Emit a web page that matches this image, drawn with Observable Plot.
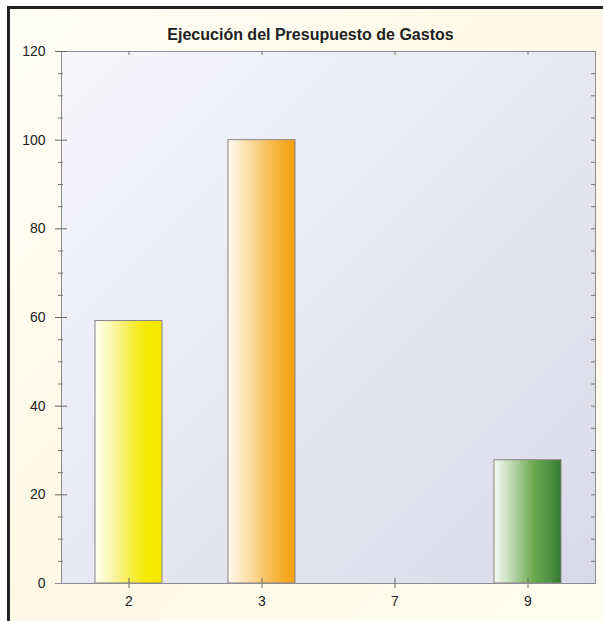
<!DOCTYPE html>
<html>
<head>
<meta charset="utf-8">
<script src="https://cdn.jsdelivr.net/npm/d3@7"></script>
<script src="https://cdn.jsdelivr.net/npm/@observablehq/plot@0.6"></script>
<style>
  html, body { margin: 0; padding: 0; background: #ffffff; }
  #wrap { position: relative; width: 603px; height: 621px; overflow: hidden; }
  #panel {
    position: absolute; left: 7px; top: 6px; width: 640px; height: 660px;
    border-left: 3px solid #222; border-top: 3px solid #222;
    background: linear-gradient(135deg, #fffef6 0%, #fdf9e6 45%, #fffdf0 100%);
  }
  #chart { position: absolute; left: 0; top: 0; }
</style>
</head>
<body>
<div id="wrap"><div id="panel"></div><div id="chart"></div></div>
<script>
const title = "Ejecución del Presupuesto de Gastos";
const categories = ["2", "3", "7", "9"];
const values = [59.2, 100, 0, 27.8];
const majorTicks = [0, 20, 40, 60, 80, 100, 120];
const minorTicks = [5, 10, 15, 25, 30, 35, 45, 50, 55, 65, 70, 75, 85, 90, 95, 105, 110, 115];
const allTicks = d3.range(5, 120, 5);
const barFills = ["url(#gYellow)", "url(#gOrange)", "url(#gGray)", "url(#gGreen)"];

const data = categories.map((c, i) => ({cat: c, value: values[i]}));

const W = 603, H = 621, mL = 61, mR = 8, mT = 51, mB = 38;
const fw = W - mL - mR, fh = H - mT - mB;
const font = "'Liberation Sans', Arial, sans-serif";

const chart = Plot.plot({
  width: W,
  height: H,
  marginLeft: mL,
  marginRight: mR,
  marginTop: mT,
  marginBottom: mB,
  style: {background: "transparent", fontFamily: font, fontSize: "14px", color: "#222", overflow: "visible"},
  x: {domain: categories, paddingInner: 0.5, paddingOuter: 0.25, axis: null},
  y: {domain: [0, 120], axis: null},
  color: {domain: categories, range: barFills},
  marks: [
    Plot.frame({fill: "url(#gBg)", stroke: "#8c8c96"}),
    Plot.barY(data.filter(d => d.value > 0), {x: "cat", y: "value", fill: "cat", stroke: "#8a8288", strokeWidth: 1}),
    // left axis: major ticks crossing the axis line
    Plot.tickY(majorTicks, {y: d => d, insetLeft: -6, insetRight: fw - 6, stroke: "#666"}),
    Plot.tickY(minorTicks, {y: d => d, insetLeft: -3, insetRight: fw - 2, stroke: "#777"}),
    Plot.text(majorTicks, {y: d => d, frameAnchor: "left", dx: -16, textAnchor: "end", fill: "#222", fontSize: 14}),
    // right axis: short inside ticks
    Plot.tickY(allTicks, {y: d => d, insetLeft: fw - 4, stroke: "#777"}),
    // top axis: inside ticks at categories
    Plot.tickX(categories, {x: d => d, insetBottom: fh - 4, stroke: "#777"}),
    // bottom axis: crossing ticks at categories
    Plot.tickX(categories, {x: d => d, insetTop: fh - 5, insetBottom: -5, stroke: "#666"}),
    Plot.text(categories, {x: d => d, frameAnchor: "bottom", dy: 22, fill: "#222", fontSize: 14}),
    // x axis line extending left to the 0 tick
    Plot.tickY([0], {y: d => d, insetLeft: -6, stroke: "#8c8c96"}),
    Plot.text([title], {frameAnchor: "top", dx: -18, dy: -23, fontSize: 16, fontWeight: "bold", fill: "#222"})
  ]
});

const svg = d3.select(chart);
const defs = svg.insert("defs", ":first-child");
function grad(id, stops, x2 = "100%", y2 = "0%") {
  const g = defs.append("linearGradient").attr("id", id)
    .attr("x1", "0%").attr("y1", "0%").attr("x2", x2).attr("y2", y2);
  stops.forEach(([o, c]) => g.append("stop").attr("offset", o).attr("stop-color", c));
}
grad("gBg", [["0%", "#f6f6fb"], ["50%", "#e8e8f3"], ["100%", "#d9d9ea"]], "100%", "100%");
grad("gYellow", [["0%", "#fffff4"], ["30%", "#faf49c"], ["60%", "#f6ec30"], ["78%", "#f6ea00"], ["100%", "#f5e800"]]);
grad("gOrange", [["0%", "#fffaf0"], ["30%", "#fddfa8"], ["60%", "#f9c05a"], ["85%", "#f7aa22"], ["100%", "#f5a012"]]);
grad("gGreen", [["0%", "#f6fbf4"], ["30%", "#b4d3a6"], ["60%", "#6aa84c"], ["85%", "#4a8e40"], ["100%", "#357834"]]);
grad("gGray", [["0%", "#ffffff"], ["100%", "#999999"]]);

document.getElementById("chart").appendChild(chart);
</script>
</body>
</html>
